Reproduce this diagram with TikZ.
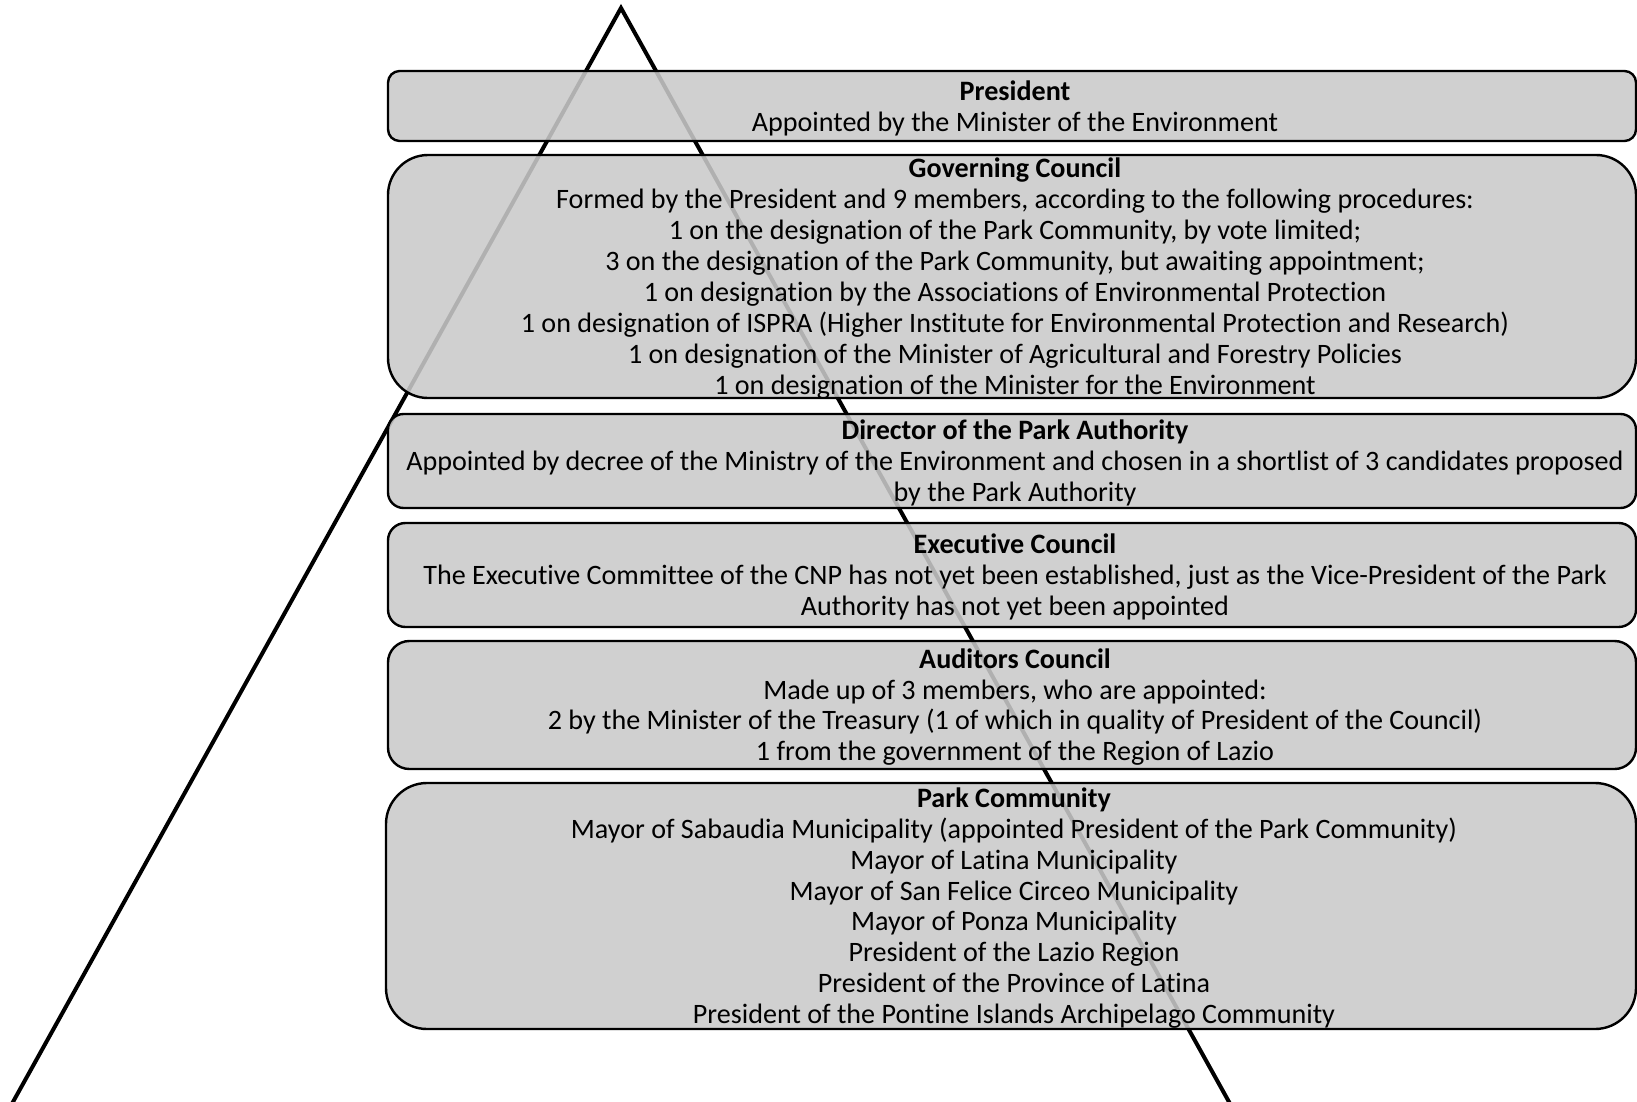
\documentclass[tikz,border=0pt]{standalone}
\usepackage{fontspec}
\setmainfont{Carlito}[Ligatures=NoCommon]
\tikzset{
  orgbox/.style={draw=black, line width=1.2pt, fill=black!21, fill opacity=0.88,
    minimum width=624pt, inner sep=0pt},
  orgtext/.style={align=center, inner sep=0pt, xshift=1.5pt, yshift=-1pt,
    font=\fontsize{14.05}{15.45}\selectfont},
}
\begin{document}
\begin{tikzpicture}[x=0.5pt, y=-0.5pt]
        \useasboundingbox (0,0) rectangle (1637,1102);
        \clip (0,0) rectangle (1637,1102);
        % pyramid behind the boxes
        \coordinate (apex) at (621,8);
        \coordinate (baseleft) at (8.5,1110);
        \coordinate (baseright) at (1233.5,1110);
        \draw[line width=2pt] (baseleft) -- (apex) -- (baseright);
        % boxes, top to bottom
        \node[orgbox, minimum height=35pt, rounded corners=5.8pt] (president) at (1012,106) {};
        \node[orgbox, minimum height=121.5pt, rounded corners=20pt] (council) at (1012,276.5) {};
        \node[orgbox, minimum height=47pt, rounded corners=7.8pt] (director) at (1012,461) {};
        \node[orgbox, minimum height=52pt, rounded corners=8.7pt] (executive) at (1012,575) {};
        \node[orgbox, minimum height=64pt, rounded corners=10.7pt] (auditors) at (1012,705) {};
        \node[orgbox, minimum width=625pt, minimum height=123pt, rounded corners=20.5pt] (community) at (1011,906) {};
        % President
        \node[orgtext] (presidenttext) at (president.center)
            {\textbf{President}\\Appointed by the Minister of the Environment};
        % Governing Council
        \node[orgtext] (counciltext) at (council.center)
            {\textbf{Governing Council}\\
             Formed by the President and 9 members, according to the following procedures:\\
             1 on the designation of the Park Community, by vote limited;\\
             3 on the designation of the Park Community, but awaiting appointment;\\
             1 on designation by the Associations of Environmental Protection\\
             1 on designation of ISPRA (Higher Institute for Environmental Protection and Research)\\
             1 on designation of the Minister of Agricultural and Forestry Policies\\
             1 on designation of the Minister for the Environment};
        % Director
        \node[orgtext] (directortext) at (director.center)
            {\textbf{Director of the Park Authority}\\
             Appointed by decree of the Ministry of the Environment and chosen in a shortlist of 3 candidates proposed\\
             by the Park Authority};
        % Executive Council
        \node[orgtext] (executivetext) at (executive.center)
            {\textbf{Executive Council}\\
             The Executive Committee of the CNP has not yet been established, just as the Vice-President of the Park\\
             Authority has not yet been appointed};
        % Auditors Council
        \node[orgtext] (auditorstext) at (auditors.center)
            {\textbf{Auditors Council}\\
             Made up of 3 members, who are appointed:\\
             2 by the Minister of the Treasury (1 of which in quality of President of the Council)\\
             1 from the government of the Region of Lazio};
        % Park Community
        \node[orgtext] (communitytext) at (community.center)
            {\textbf{Park Community}\\
             Mayor of Sabaudia Municipality (appointed President of the Park Community)\\
             Mayor of Latina Municipality\\
             Mayor of San Felice Circeo Municipality\\
             Mayor of Ponza Municipality\\
             President of the Lazio Region\\
             President of the Province of Latina\\
             President of the Pontine Islands Archipelago Community};
\end{tikzpicture}
\end{document}
